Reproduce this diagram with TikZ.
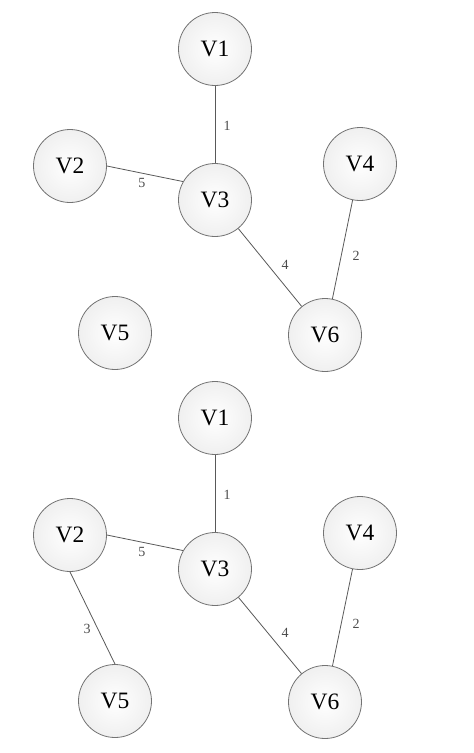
\documentclass[tikz,border=0pt]{standalone}
\usepackage{fontspec}
\setmainfont{Liberation Serif}
\begin{document}
\begin{tikzpicture}[x=1pt,y=-1pt,
  vtx/.style={circle,draw=black!55,line width=0.8pt,inner color=white,outer color=black!6,
    minimum size=73pt,inner sep=0pt,font=\fontsize{23.5}{26}\selectfont},
  edge/.style={draw=black!65,line width=0.8pt},
  lbl/.style={font=\fontsize{14}{16}\selectfont,text=black!70,inner sep=0pt}]
\useasboundingbox (0,0) rectangle (474,753);
\fill[white] (0,0) rectangle (474,753);
% top graph
\node[vtx] (a1) at (215,49) {V1};
\node[vtx] (a2) at (70,166) {V2};
\node[vtx] (a3) at (215,200) {V3};
\node[vtx] (a4) at (360,164) {V4};
\node[vtx] (a5) at (115,333) {V5};
\node[vtx] (a6) at (325,335) {V6};
\draw[edge] (a1) -- node[lbl,xshift=12pt,yshift=-1.5pt]{1} (a3);
\draw[edge] (a2.east) -- node[lbl,xshift=-3pt,yshift=-9pt]{5} (a3.150);
\draw[edge] (a3) -- node[lbl,xshift=15pt,yshift=2.5pt]{4} (a6);
\draw[edge] (a4) -- node[lbl,xshift=13.5pt,yshift=-6.5pt]{2} (a6);
% bottom graph
\node[vtx] (b1) at (215,418) {V1};
\node[vtx] (b2) at (70,535) {V2};
\node[vtx] (b3) at (215,569) {V3};
\node[vtx] (b4) at (360,533) {V4};
\node[vtx] (b5) at (115,701) {V5};
\node[vtx] (b6) at (325,702) {V6};
\draw[edge] (b1) -- node[lbl,xshift=12pt,yshift=-1.5pt]{1} (b3);
\draw[edge] (b2.east) -- node[lbl,xshift=-3pt,yshift=-9pt]{5} (b3.150);
\draw[edge] (b3) -- node[lbl,xshift=15pt,yshift=2.5pt]{4} (b6);
\draw[edge] (b4) -- node[lbl,xshift=13.5pt,yshift=-6.5pt]{2} (b6);
\draw[edge] (b2.south) -- node[lbl,xshift=-5.5pt,yshift=-11pt]{3} (b5.north);
\end{tikzpicture}
\end{document}
